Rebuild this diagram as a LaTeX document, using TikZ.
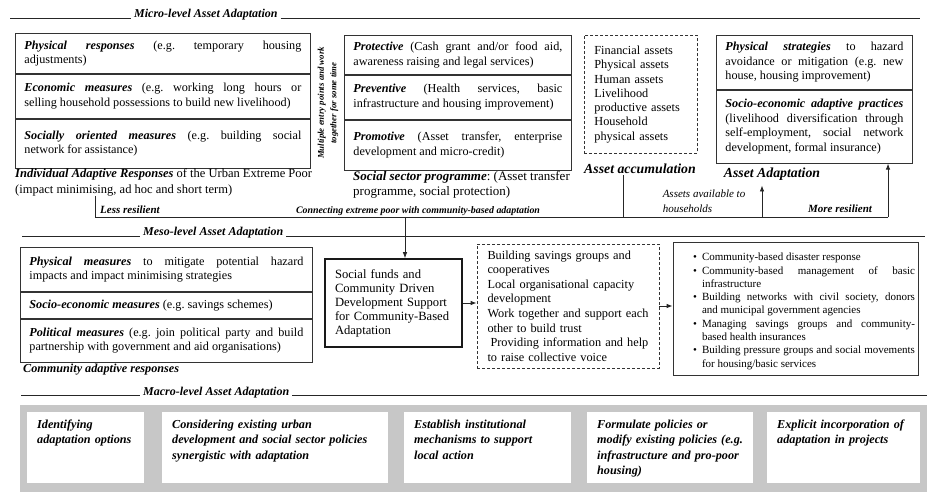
\documentclass[tikz,border=0pt]{standalone}
\usepackage{fontspec}
\setmainfont{Liberation Serif}
\usetikzlibrary{arrows.meta,positioning}

\newcommand{\bfit}[1]{\textbf{\textit{#1}}}
\newcommand{\fs}[2]{\fontsize{#1}{#2}\selectfont}
\newcommand{\bitem}{\par\noindent\hangindent=26pt\hangafter=1\makebox[26pt][l]{\hspace{17pt}\textbullet}}
\hyphenpenalty=10000
\tolerance=9999
\emergencystretch=20pt
\frenchspacing

\tikzset{
  row/.style={draw=black!80, line width=0.8pt, align=justify, inner xsep=9pt,
    inner ysep=0pt, anchor=north west, font=\fs{12.2}{14.5}},
  dashbox/.style={draw=black!80, line width=0.8pt, dash pattern=on 3pt off 2pt, align=left},
  lbl/.style={inner sep=1pt, font=\fs{11}{14.5}\bfseries\itshape},
  bigl/.style={inner sep=1pt, font=\fs{13.8}{15}\bfseries\itshape},
  head/.style={anchor=base west, inner xsep=3pt, inner ysep=0pt, font=\fs{12}{13}\bfseries\itshape},
  conn/.style={draw=black!85, line width=0.8pt},
  arr/.style={conn, -{Latex[length=6pt,width=4.5pt]}},
  macrobox/.style={fill=white, anchor=north west, inner xsep=10pt, inner ysep=6pt,
    text height=10pt, text depth=49pt, align=left, font=\fs{12.2}{15.5}\bfseries\itshape},
}

\begin{document}
\frenchspacing
\begin{tikzpicture}[x=1pt, y=-1pt]
  \useasboundingbox (0,0) rectangle (927,492);

  % micro level
  \node[head] (microhd) at (131,18) {Micro-level Asset Adaptation};
  \draw[conn] (10,18) -- (microhd.base west);
  \draw[conn] (microhd.base east) -- (920,18);

  \node[row, text width=277pt, minimum height=40pt] (physresp) at (15,33)
    {\bfit{Physical responses} (e.g. temporary housing\linebreak adjustments)};
  \node[row, text width=277pt, minimum height=44pt] (econ) at (physresp.south west)
    {\bfit{Economic measures} (e.g. working long hours or\linebreak selling household possessions to build new livelihood)};
  \node[row, text width=277pt, minimum height=49pt] (social) at (econ.south west)
    {\bfit{Socially oriented measures} (e.g. building social\linebreak network for assistance)};
  \node[anchor=north west, inner sep=0pt, align=left, font=\fs{12.5}{16}] (indiv) at (15,168)
    {\bfit{Individual Adaptive Responses} of the Urban Extreme Poor\\(impact minimising, ad hoc and short term)};

  \node[rotate=90, align=center, font=\fs{8.8}{12.5}\bfseries\itshape] (entry) at (328,103)
    {Multiple entry points and work\\together for some time};

  \node[row, text width=209pt, minimum height=39pt] (protect) at (344,35)
    {\bfit{Protective} (Cash grant and/or food aid,\linebreak awareness raising and legal services)};
  \node[row, text width=209pt, minimum height=44pt] (prevent) at (protect.south west)
    {\bfit{Preventive} (Health services, basic\linebreak infrastructure and housing improvement)};
  \node[row, text width=209pt, minimum height=50pt] (promote) at (prevent.south west)
    {\bfit{Promotive} (Asset transfer, enterprise\linebreak development and micro-credit)};
  \node[anchor=north west, inner sep=0pt, align=left, font=\fs{13}{15}] (sector) at (353,171)
    {\bfit{Social sector programme}: (Asset transfer\\programme, social protection)};

  \node[dashbox, anchor=north west, text width=93pt, inner xsep=10pt, minimum height=118pt,
    font=\fs{12.3}{14.3}] (assets) at (584,35)
    {Financial assets\\Physical assets\\Human assets\\Livelihood\\productive assets\\Household\\physical assets};
  \node[bigl] (accum) at (640,169) {Asset accumulation};

  \node[row, text width=178pt, minimum height=54pt] (physstrat) at (716,35)
    {\bfit{Physical strategies} to hazard\linebreak avoidance or mitigation (e.g. new\linebreak house, housing improvement)};
  \node[row, text width=178pt, minimum height=73pt] (socprac) at (physstrat.south west)
    {\bfit{Socio-economic adaptive practices}\linebreak (livelihood diversification through\linebreak self-employment, social network\linebreak development, formal insurance)};
  \node[bigl] (adapt) at (772,174) {Asset Adaptation};

  % connecting line
  \coordinate (busw) at (95,217);
  \coordinate (buse) at (888,217);
  \coordinate (accx) at (623,217);
  \coordinate (adx) at (762,217);
  \coordinate (cnx) at (405,217);
  \draw[conn] (indiv.south -| busw) -- (busw) -- (buse);
  \draw[arr] (buse) -- (buse |- socprac.south);
  \draw[conn] (accum.south -| accx) -- (accx);
  \draw[arr] (adx) -- ([yshift=-4pt]adx |- adapt.south);

  \node[lbl] (lessres) at (130,210) {Less resilient};
  \node[lbl, font=\fs{9.9}{10}\bfseries\itshape] (connect) at (418,211)
    {Connecting extreme poor with community-based adaptation};
  \node[lbl, align=left, font=\fs{11}{15}\itshape] (avail) at (704,201) {Assets available to\\households};
  \node[lbl] (moreres) at (840,209) {More resilient};

  % meso level
  \node[head] (mesohd) at (140,236) {Meso-level Asset Adaptation};
  \draw[conn] (22,236) -- (mesohd.base west);
  \draw[conn] (mesohd.base east) -- (925,236);

  \node[row, text width=274pt, minimum height=44pt] (physmeas) at (20,247)
    {\bfit{Physical measures} to mitigate potential hazard\linebreak impacts and impact minimising strategies};
  \node[row, text width=274pt, minimum height=26pt] (socmeas) at (physmeas.south west)
    {\bfit{Socio-economic measures} (e.g. savings schemes)};
  \node[row, text width=274pt, minimum height=43pt] (polmeas) at (socmeas.south west)
    {\bfit{Political measures} (e.g. join political party and build\linebreak partnership with government and aid organisations)};
  \node[anchor=west, inner sep=0pt, font=\fs{12.2}{13}\bfseries\itshape] (commresp) at (23,370)
    {Community adaptive responses};

  \node[draw=black!90, line width=1.6pt, text width=117pt, inner xsep=10pt, minimum height=88pt,
    align=left, font=\fs{12.6}{14}] (sf) at (393.5,303)
    {Social funds and\\Community Driven\\Development Support\\for Community-Based\\Adaptation};

  \node[dashbox, text width=161pt, inner xsep=10.5pt, minimum height=124pt, font=\fs{12.3}{14.6}] (build) at (568,306)
    {Building savings groups and\\cooperatives\\Local organisational capacity\\development\\Work together and support each\\other to build trust\\\hspace{3pt}Providing information and help\\to raise collective voice};

  \node[draw=black!80, line width=0.8pt, text width=239pt, inner xsep=3pt, minimum height=133pt,
    align=justify, font=\fs{11}{13.3}] (outcomes) at (795.5,308.5)
    {\bitem Community-based disaster response
     \bitem Community-based management of basic\linebreak infrastructure
     \bitem Building networks with civil society, donors\linebreak and municipal government agencies
     \bitem Managing savings groups and community-\linebreak based health insurances
     \bitem Building pressure groups and social movements\linebreak for housing/basic services\par};

  \draw[arr] (cnx) -- (cnx |- sf.north);
  \draw[arr] (sf.east) -- (sf.east -| build.west);
  \draw[arr] (build.east) -- (build.east -| outcomes.west);

  % macro level
  \node[head] (macrohd) at (140,395) {Macro-level Asset Adaptation};
  \draw[conn] (21,395) -- (macrohd.base west);
  \draw[conn] (macrohd.base east) -- (927,395);

  \fill[black!22] (20,405) rectangle (927,492);
  \node[macrobox, text width=97pt] (identify) at (27,412) {Identifying\\adaptation options};
  \node[macrobox, text width=206pt] (consider) at (162,412)
    {Considering existing urban\\development and social sector policies\\synergistic with adaptation};
  \node[macrobox, text width=147pt] (establish) at (404,412)
    {Establish institutional\\mechanisms to support\\local action};
  \node[macrobox, text width=146pt] (formulate) at (587,412)
    {Formulate policies or\\modify existing policies (e.g.\\infrastructure and pro-poor\\housing)};
  \node[macrobox, text width=133pt] (explicit) at (767,412)
    {Explicit incorporation of\\adaptation in projects};

\end{tikzpicture}
\end{document}
